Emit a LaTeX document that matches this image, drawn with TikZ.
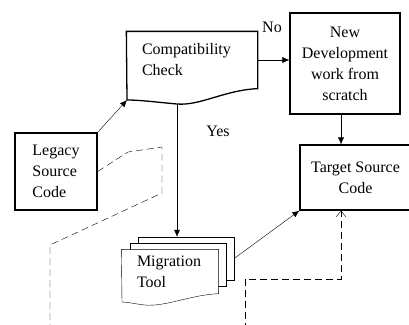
\documentclass[tikz,border=0pt]{standalone}
\usepackage{fontspec}
\setmainfont{Liberation Serif}
\usetikzlibrary{calc,arrows.meta,backgrounds}

\begin{document}
\begin{tikzpicture}[x=1pt,y=-1pt,line width=1.3pt,
            box/.style={draw,rectangle,align=center,font=\fontsize{16}{21}\selectfont},
            doc/.style={rectangle,align=left,inner xsep=15pt,font=\fontsize{16}{21}\selectfont},
            sheet/.style={draw,fill=white,rectangle,minimum width=96pt,minimum height=43pt},
            dl/.style={dash pattern=on 7pt off 4pt},
            >={Latex[length=7pt,width=6pt]}]
            \useasboundingbox (0,0) rectangle (409,324);

            % boxes
            \node [doc,text width=100pt,minimum height=56pt] (cc) at (192,60) {Compatibility\\Check};
            \node [box,minimum width=110pt,minimum height=101pt] (nd) at (345,63.5) {New\\Development\\work from\\scratch};
            \node [box,align=left,minimum width=82pt,minimum height=77pt] (lg) at (56,171.5) {Legacy\\Source\\Code};
            \node [box,minimum width=111pt,minimum height=65pt] (ts) at (355.5,177.5) {Target Source\\Code};
            \node [doc,text width=66pt,minimum height=43pt] (mt) at (170,271.5) {Migration\\Tool};

            % document outlines
            \draw (cc.north west) -- (cc.north east) -- (cc.south east)
                .. controls (225,90) and (200,106) .. (177,104) coordinate (cb)
                .. controls (155,102) and (140,100) .. (127,100) coordinate (cl) -- cycle;
            \begin{pgfonlayer}{background}
                \node [sheet] (m3) at ($(mt)+(16,-13)$) {};
                \node [sheet] (m2) at ($(mt)+(8,-6.5)$) {};
                \draw [fill=white] (mt.north west) -- (mt.north east) -- (mt.south east)
                    .. controls (190,295) and (165,307) .. (145,305)
                    .. controls (135,304) and (128,302) .. (122,302) -- cycle;
            \end{pgfonlayer}

            % labels
            \node [font=\fontsize{16}{21}\selectfont] (no) at (272,27) {No};
            \node [font=\fontsize{16}{21}\selectfont] (yes) at (218,131) {Yes};

            % connectors
            \coordinate (tb) at ([xshift=-14.5pt]ts.south);
            \coordinate (d1) at (50,330);
            \coordinate (d2) at (245,330);
            \draw [->] (cc.east) -- (nd.west |- cc.east);
            \draw [->] (lg.north east) -- (cl);
            \draw [->] (cb) -- (cb |- m3.north);
            \draw [->] (nd.south -| tb) -- (tb |- ts.north);
            \draw [->] (m3.east) -- (ts.south west);
            \draw [dl] (lg.east) -- (128,152) -- (162,147) -- (162,193) -- (50,245) -- (d1);
            \draw [dl,-{Straight Barb[length=6pt,width=10pt]}] (d2) -- (245,279) -| (tb);
        \end{tikzpicture}
\end{document}
